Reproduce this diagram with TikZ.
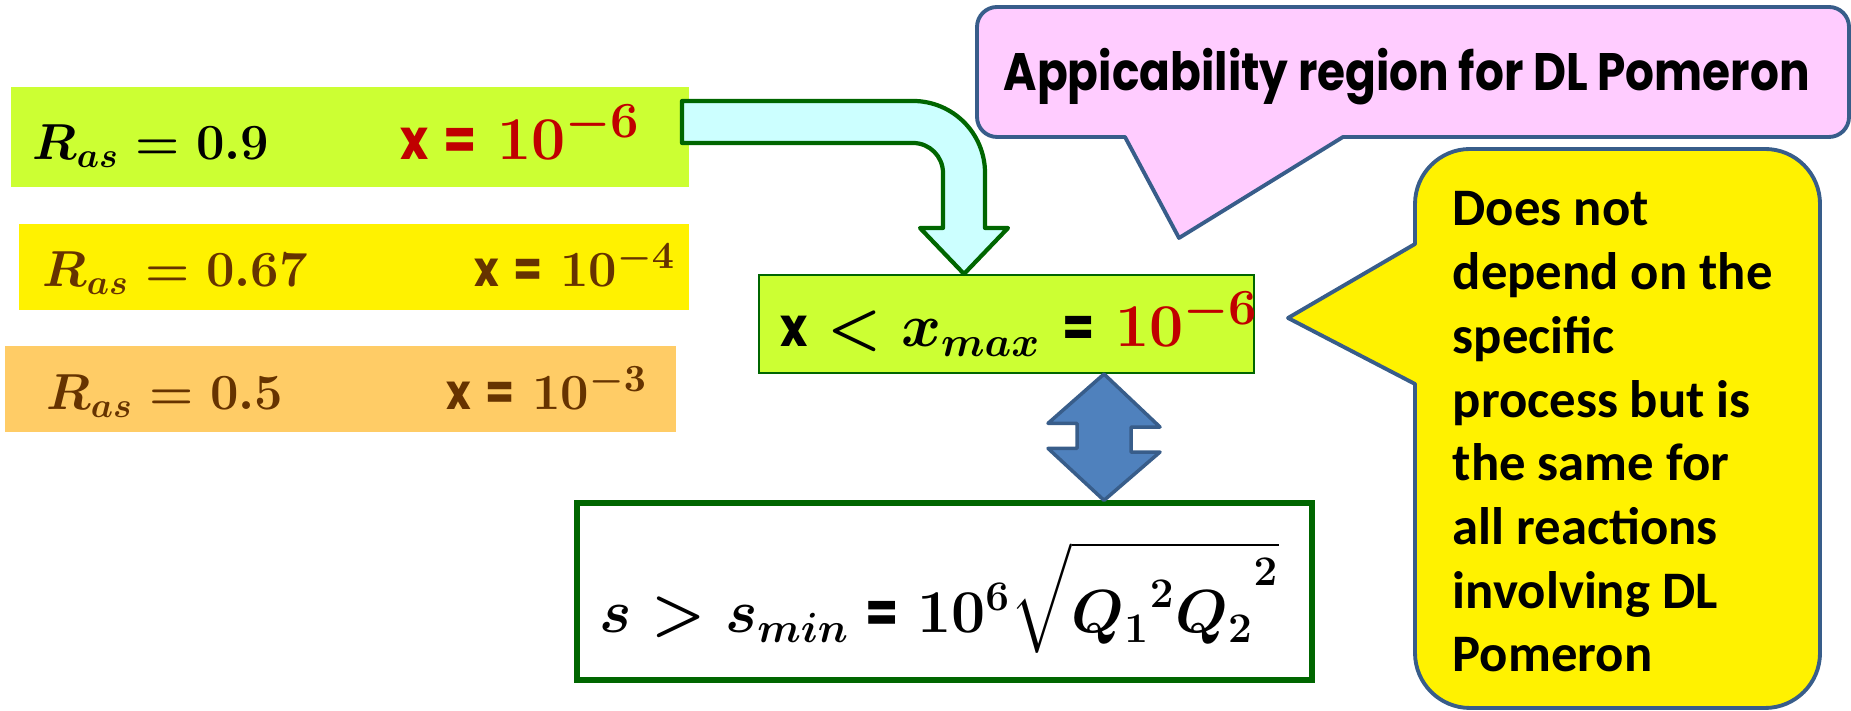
\documentclass[tikz,border=0pt]{standalone}
\usepackage{fontspec}
\usepackage{amsmath,graphicx}
\newfontfamily\gothfont{Poppins}
\newfontfamily\calfont{Carlito}
\usetikzlibrary{positioning,calc}
\definecolor{lime}{HTML}{CCFF33}
\definecolor{lightorange}{HTML}{FFCC66}
\definecolor{darkgreen}{HTML}{006600}
\definecolor{paleblue}{HTML}{CCFFFF}
\definecolor{arrowblue}{HTML}{4F81BD}
\definecolor{edgeblue}{HTML}{385D8A}
\definecolor{pinkfill}{HTML}{FFCCFF}
\definecolor{darkred}{HTML}{C00000}
\definecolor{rasbrown}{HTML}{663300}
% narrow sans letters (x, =)
\newcommand{\sx}[2]{{\fontsize{#1}{#1}\selectfont\scalebox{0.85}[1]{\gothfont\bfseries #2}}}

\begin{document}
\begin{tikzpicture}[every node/.style={inner sep=0pt},
  mtext/.style={anchor=base west,font=\boldmath\fontsize{14.5}{17}\selectfont},
  callout/.style={draw=edgeblue,line width=1.1pt,line join=round}]
\useasboundingbox (0,0) rectangle (18.51,7.11);
% R_as bands
\node[fill=lime,minimum width=6.78cm,minimum height=1.00cm] (band1) at (3.50,5.74) {};
\node[fill=yellow,minimum width=6.70cm,minimum height=0.86cm] (band2) at (3.54,4.44) {};
\node[fill=lightorange,minimum width=6.71cm,minimum height=0.86cm] (band3) at (3.405,3.22) {};
\node[mtext] (ras1) at (0.32,5.51) {$R_{as}=0.9$};
\node[mtext,text=darkred,font=\boldmath\fontsize{19}{20}\selectfont] (xv1) at (4.00,5.51)
  {\sx{16}{x}\hspace{0.15cm}\sx{16}{=}\hspace{0.2cm}$10^{-6}$};
\node[mtext,text=rasbrown] (ras2) at (0.42,4.24) {$R_{as}=0.67$};
\node[mtext,text=rasbrown,font=\boldmath\fontsize{15}{17}\selectfont] (xv2) at (4.74,4.24)
  {\sx{14}{x}\hspace{0.14cm}\sx{14}{=}\hspace{0.18cm}$10^{-4}$};
\node[mtext,text=rasbrown] (ras3) at (0.46,3.01) {$R_{as}=0.5$};
\node[mtext,text=rasbrown,font=\boldmath\fontsize{15}{17}\selectfont] (xv3) at (4.46,3.01)
  {\sx{14}{x}\hspace{0.14cm}\sx{14}{=}\hspace{0.18cm}$10^{-3}$};
% x_max and s_min boxes
\node[fill=lime,draw=darkgreen,line width=0.6pt,minimum width=4.95cm,minimum height=0.98cm] (xmax) at (10.065,3.87) {};
\node[mtext,font=\boldmath\fontsize{17.5}{20}\selectfont] (xmaxt) at (7.80,3.64)
  {\sx{15.5}{x}${}<x_{max}$\hspace{0.22cm}\sx{15.5}{=}\hspace{0.2cm}\textcolor{darkred}{\fontsize{19}{20}\selectfont$10^{-6}$}};
\node[fill=white,draw=darkgreen,line width=1.5pt,minimum width=7.35cm,minimum height=1.77cm] (smin) at (9.445,1.195) {};
\node[mtext,font=\boldmath\fontsize{16.5}{20}\selectfont] (smint) at (5.99,0.78)
  {$s>s_{min}$\hspace{0.16cm}\sx{16}{=}\hspace{0.18cm}$10^{6}\sqrt{{Q_1}^{2}{Q_2}^{\raisebox{0.9ex}{$\scriptstyle 2$}}}$};
% bent arrow
\coordinate (tipx) at (9.64,0);
\draw[darkgreen,fill=paleblue,line width=1.2pt,line join=round]
  (6.82,6.10) -- (9.13,6.10) arc[start angle=90,end angle=0,radius=0.72]
  -- (9.85,4.83) -- (10.08,4.83) -- (xmax.north -| tipx) -- (9.20,4.83) -- (9.43,4.83)
  -- (9.43,5.38) arc[start angle=0,end angle=90,radius=0.30] -- (6.82,5.68) -- cycle;
% double arrow
\coordinate (dx) at (11.04,0);
\draw[edgeblue,fill=arrowblue,line width=1pt,line join=round]
  (xmax.south -| dx) -- ++(0.56,-0.53) -- ++(-0.29,0) -- ++(0,-0.25) -- ++(0.29,0)
  -- (smin.north -| dx) -- ++(-0.56,0.52) -- ++(0.29,0) -- ++(0,0.25) -- ++(-0.29,0) -- cycle;
% callouts
\draw[callout,fill=pinkfill] (11.25,5.74) -- (11.79,4.73) -- (13.43,5.74)
  -- (18.29,5.74) arc[start angle=-90,end angle=0,radius=0.2] -- (18.49,6.84)
  arc[start angle=0,end angle=90,radius=0.2] -- (9.97,7.04)
  arc[start angle=90,end angle=180,radius=0.2] -- (9.77,5.94)
  arc[start angle=180,end angle=270,radius=0.2] -- cycle;
\node[anchor=base west] (pinkt) at (10.03,6.20)
  {\resizebox{8.06cm}{\height}{\gothfont\bfseries\fontsize{15}{18}\selectfont Appicability region for DL Pomeron}};
\draw[callout,fill=yellow] (14.15,4.67) -- (12.88,3.93) -- (14.15,3.27)
  -- (14.15,0.58) arc[start angle=180,end angle=270,radius=0.55] -- (17.65,0.03)
  arc[start angle=270,end angle=360,radius=0.55] -- (18.20,5.07)
  arc[start angle=0,end angle=90,radius=0.55] -- (14.70,5.62)
  arc[start angle=90,end angle=180,radius=0.55] -- cycle;
\foreach \t [count=\i] in {Does not,depend on the,specific,process but is,the same for,all reactions,involving DL,Pomeron}
  \node[anchor=base west,font=\calfont\bfseries\fontsize{15}{18}\selectfont] (ln\i) at (14.52,{4.85-0.637*(\i-1)}) {\t};
\end{tikzpicture}
\end{document}
